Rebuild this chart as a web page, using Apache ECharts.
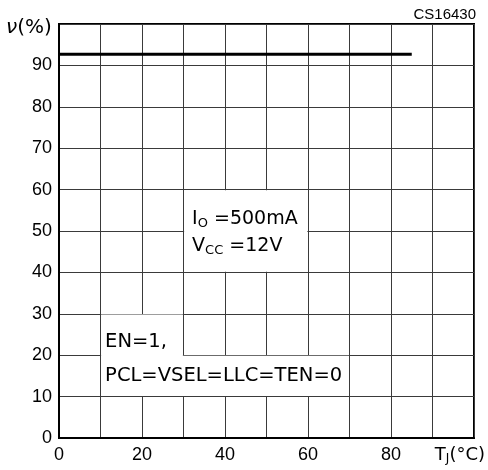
<!DOCTYPE html>
<html><head><meta charset="utf-8">
<script src="https://cdn.jsdelivr.net/npm/echarts@6/dist/echarts.min.js"></script>
<style>html,body{margin:0;padding:0;background:#fff}#c{width:488px;height:470px}</style>
</head><body><div id="c"></div>
<script>
// Data
const tempC = [0, 85];
const efficiency = [92.7, 92.7];
const xTicks = [0, 20, 40, 60, 80];
const yTicks = [0, 10, 20, 30, 40, 50, 60, 70, 80, 90];
const chartId = 'CS16430';
const FONT = 'Liberation Sans';
const FONT2 = 'DejaVu Sans';

const chart = echarts.init(document.getElementById('c'), null, {renderer: 'canvas'});
const lineData = tempC.map((t, i) => [t, efficiency[i]]);

const m = {fontFamily: FONT2, fontSize: 19, color: '#000', lineHeight: 27};
const s = {fontFamily: FONT2, fontSize: 13, color: '#000', lineHeight: 27, padding: [9, 0, 0, 0]};
const boxLabel = (text, dy, dist) => ({
  show: true, position: 'insideLeft', distance: dist, offset: [0, dy],
  color: '#000', fontFamily: FONT2, fontSize: 19.5, formatter: text, rich: {m: m, s: s}
});

chart.setOption({
  animation: false,
  backgroundColor: '#fff',
  grid: {left: 59, right: 14, top: 24, bottom: 32, show: true, borderColor: '#000', borderWidth: 2, backgroundColor: '#fff'},
  xAxis: {
    type: 'value', min: 0, max: 100, interval: 10,
    axisLine: {show: true, lineStyle: {color: '#000', width: 2}},
    axisTick: {show: false},
    splitLine: {show: true, lineStyle: {color: '#3a3a3a', width: 1}},
    axisLabel: {
      margin: 8, color: '#000', fontFamily: FONT, fontSize: 18,
      formatter: v => xTicks.includes(v) ? String(v) : ''
    }
  },
  yAxis: {
    type: 'value', min: 0, max: 100, interval: 10,
    axisLine: {show: true, lineStyle: {color: '#000', width: 2}},
    axisTick: {show: false},
    splitLine: {show: true, lineStyle: {color: '#3a3a3a', width: 1}},
    axisLabel: {
      margin: 7, color: '#000', fontFamily: FONT, fontSize: 18,
      formatter: v => yTicks.includes(v) ? String(v) : ''
    }
  },
  graphic: [
    {type: 'text', z: 100, right: 12, top: 7, style: {text: chartId, fill: '#000', fontFamily: FONT, fontSize: 15}},
    {type: 'text', z: 100, left: 6, top: 18, style: {
      text: '{i|\u03BD}{m|(%)}',
      rich: {i: {fontFamily: FONT2, fontSize: 20, fontStyle: 'italic', fill: '#000'}, m: {fontFamily: FONT2, fontSize: 20, fill: '#000'}}
    }},
    {type: 'text', z: 100, right: 3, top: 446, style: {
      text: '{m|T}{s|J}{m|(°C)}',
      rich: {m: {fontFamily: FONT2, fontSize: 18, fill: '#000'}, s: {fontFamily: FONT2, fontSize: 12, fill: '#000', padding: [8, 0, 0, 0]}}
    }}
  ],
  series: [{
    type: 'line', data: lineData, symbol: 'none', z: 5,
    lineStyle: {color: '#000', width: 3},
    markArea: {
      silent: true,
      itemStyle: {color: '#fff', borderWidth: 0},
      data: [
        [{coord: [30.15, 59.85], label: boxLabel('{m|I}{s|O}{m| =500mA}\n{m|V}{s|CC}{m| =12V}', 2, 8)}, {coord: [59.85, 40.15]}],
        [{coord: [10.15, 29.85], label: boxLabel('EN=1,', 6, 4)}, {coord: [29.85, 19.5]}],
        [{coord: [10.15, 19.85], label: boxLabel('PCL=VSEL=LLC=TEN=0', 0, 4)}, {coord: [69.85, 10.15]}]
      ]
    }
  }]
});
</script></body></html>
